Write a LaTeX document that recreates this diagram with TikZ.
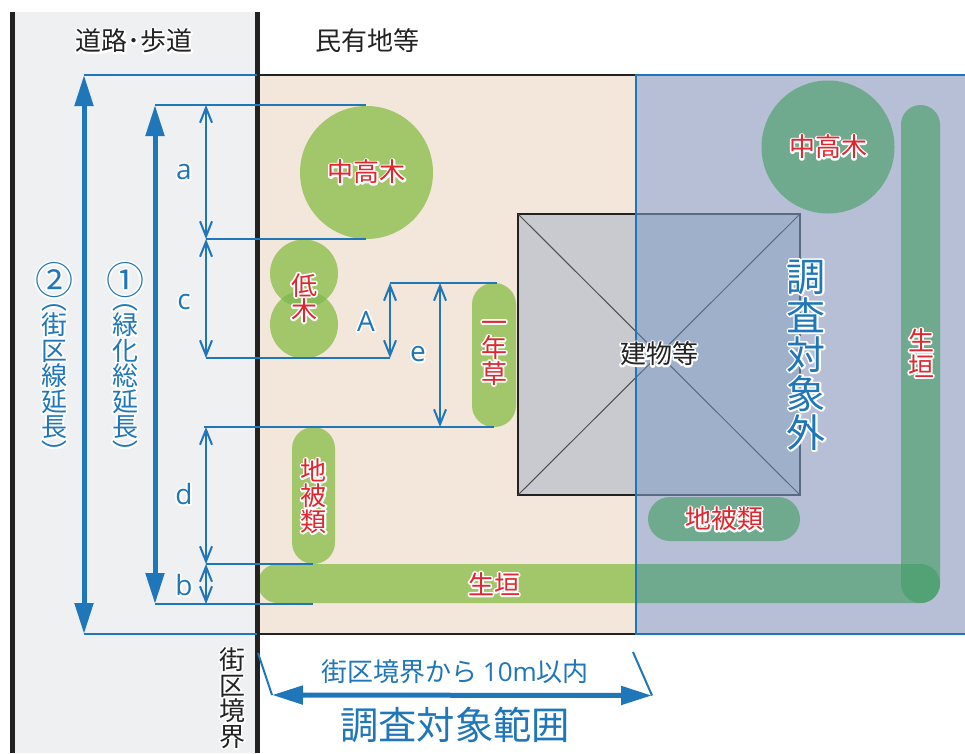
\documentclass[tikz,border=0pt]{standalone}
\usepackage{fontspec}
\usepackage{graphicx}
\usetikzlibrary{arrows.meta}
\setmainfont{Noto Sans CJK JP}
\newfontfamily\latn{Open Sans}
\definecolor{roadc}{HTML}{EFF0F2}
\definecolor{beige}{HTML}{F3E6DB}
\definecolor{bluebg}{HTML}{B6BFD5}
\definecolor{greena}{HTML}{A2C66A}
\definecolor{greenb}{HTML}{70AA8E}
\definecolor{greenc}{HTML}{52A276}
\definecolor{greend}{HTML}{86BC56}
\definecolor{blda}{HTML}{C8CAD0}
\definecolor{bldb}{HTML}{9FB1CA}
\definecolor{bldline}{HTML}{5A6A80}
\definecolor{dimc}{HTML}{1F76B8}
\definecolor{redc}{HTML}{E0262F}
\definecolor{inkc}{HTML}{222222}
\lineskiplimit=-1000pt
\newcommand\hl[1]{\leavevmode\rlap{\special{pdf:code 1 1 1 RG 3.5 w 1 j 1 J 1 Tr}#1\special{pdf:code 0 Tr}}#1}
\newcommand\rp[1]{\rotatebox[origin=c]{-90}{#1}}
\tikzset{
  x=1pt,y=-1pt,
  dimline/.style={draw=dimc,line width=2pt},
  big/.style={dimline,line width=5pt,{Triangle[length=31pt,width=18pt]}-{Triangle[length=31pt,width=18pt]}},
  thin/.style={dimline,line width=2pt,{Straight Barb[length=15pt,width=12pt,line width=2pt]}-{Straight Barb[length=15pt,width=12pt,line width=2pt]}},
  lab/.style={inner sep=0pt,font=\fontsize{26}{25.5}\selectfont,align=center},
  red/.style={lab,text=redc},
  blk/.style={lab,text=inkc},
  blu/.style={lab,text=dimc},
  ltr/.style={lab,text=dimc,font=\latn\fontsize{28}{28}\selectfont},
}
\begin{document}
\begin{tikzpicture}
\useasboundingbox (0,0) rectangle (965,753);
% areas
\fill[roadc] (12,12) rectangle (257,753);
\fill[beige] (257,75) rectangle (636,634);
\fill[bluebg] (636,75) rectangle (965,634);
\fill[blda] (518,214) rectangle (636,495);
\fill[bldb] (636,214) rectangle (800,495);
% greenery on private land
\fill[greena] (366.5,172.5) circle[radius=66.5];
\fill[greena] (304,273.5) circle[radius=34];
\fill[greena] (304,324.5) circle[radius=34];
\begin{scope}
 \clip (304,273.5) circle[radius=34];
 \fill[greend] (304,324.5) circle[radius=34];
\end{scope}
\fill[greena,rounded corners=21.5pt] (472,283) rectangle (516,427);
\fill[greena,rounded corners=21.5pt] (292,427) rectangle (335,564);
% hedge
\begin{scope}
 \clip (250,550) rectangle (636,620);
 \fill[greena,rounded corners=19.5pt] (258,564) rectangle (940,603);
\end{scope}
\begin{scope}
 \clip (636,550) rectangle (965,620);
 \fill[greenb,rounded corners=19.5pt] (258,564) rectangle (940,603);
\end{scope}
\fill[greenb,rounded corners=19.5pt] (901,105) rectangle (940,603);
\begin{scope}
 \clip[rounded corners=19.5pt] (901,105) rectangle (940,603);
 \fill[greenc,rounded corners=19.5pt] (258,564) rectangle (940,603);
\end{scope}
\fill[greenb] (828,147) circle[radius=66.5];
\fill[greenb,rounded corners=22pt] (648,497) rectangle (800,541);
% building
\draw[inkc,line width=2pt] (636,214) -- (518,214) -- (518,495) -- (636,495);
\draw[bldline,line width=2pt] (636,214) -- (800,214) -- (800,495) -- (636,495);
\begin{scope}
 \clip (518,214) rectangle (636,495);
 \draw[inkc!80,line width=1pt] (518,214) -- (800,495);
 \draw[inkc!80,line width=1pt] (518,495) -- (800,214);
\end{scope}
\begin{scope}
 \clip (636,214) rectangle (800,495);
 \draw[bldline,line width=1pt] (518,214) -- (800,495);
 \draw[bldline,line width=1pt] (518,495) -- (800,214);
\end{scope}
% borders
\draw[inkc,line width=2pt] (257,74.5) -- (636,74.5);
\draw[inkc,line width=2pt] (257,634) -- (636,634);
\draw[dimc,line width=2pt] (965,75) -- (636,75) -- (636,634) -- (965,634);
\fill[inkc] (9.5,12) rectangle (14.5,753);
\fill[inkc] (255,12) rectangle (259.5,753);
% named points
\coordinate (t2) at (84,75);   \coordinate (t2e) at (257,75);
\coordinate (b2) at (84,634);  \coordinate (b2e) at (257,634);
\coordinate (t1) at (155,105); \coordinate (t1e) at (366,105);
\coordinate (b1) at (155,604); \coordinate (b1e) at (313,604);
\coordinate (ta) at (206,105);
\coordinate (ma) at (206,239); \coordinate (mae) at (366,239);
\coordinate (mc) at (206,358); \coordinate (mce) at (390,358);
\coordinate (td) at (206,427); \coordinate (tds) at (204,427); \coordinate (tde) at (494,427);
\coordinate (md) at (206,564); \coordinate (mde) at (313,564);
\coordinate (bb) at (206,604);
\coordinate (tA) at (390,283); \coordinate (tAe) at (497,283);
\coordinate (te) at (440,283); \coordinate (be) at (440,427);
\coordinate (sl) at (258,653); \coordinate (al) at (272,695);
\coordinate (sr) at (633,652); \coordinate (ar) at (652,695.5);
% dimension lines
\draw[dimline] (t2) -- (t2e);
\draw[dimline] (b2) -- (b2e);
\draw[dimline] (t1) -- (t1e);
\draw[dimline] (b1) -- (b1e);
\draw[dimline] (ma) -- (mae);
\draw[dimline] (mc) -- (mce);
\draw[dimline] (tds) -- (tde);
\draw[dimline] (md) -- (mde);
\draw[dimline] (tA) -- (tAe);
\draw[dimline] (sl) -- (al);
\draw[dimline] (sr) -- (ar);
\draw[big] (t2) -- (b2);
\draw[big] (t1) -- (b1);
\draw[big] (al) -- (ar);
\draw[thin] (ta) -- (ma);
\draw[thin] (ma) -- (mc);
\draw[thin] (td) -- (md);
\draw[thin] (md) -- (bb);
\draw[thin] (tA) -- (mc -| tA);
\draw[thin] (te) -- (be);
% labels
\node[blk] (road) at (134,41) {\hl{道路･歩道}};
\node[blk] (priv) at (367,41) {\hl{民有地等}};
\node[red] (t1a) at (366.5,172) {\hl{中高木}};
\node[red] (t1b) at (828,147) {\hl{中高木}};
\node[red] (low) at (304,298) {\hl{低}\\\hl{木}};
\node[red] (ann) at (494,353) {\hl{一}\\\hl{年}\\\hl{草}};
\node[red] (gc1) at (313.5,496) {\hl{地}\\\hl{被}\\\hl{類}};
\node[red] (gc2) at (724,519) {\hl{地被類}};
\node[red] (hd1) at (494,584) {\hl{生垣}};
\node[red] (hd2) at (921,353) {\hl{生}\\\hl{垣}};
\node[blk] (bld) at (659,354) {\hl{建物等}};
\node[blu,font=\fontsize{39}{39}\selectfont] (out) at (806,355) {\hl{調}\\\hl{査}\\\hl{対}\\\hl{象}\\\hl{外}};
\node[ltr] (la) at (184,172) {\hl{a}};
\node[ltr] (lc) at (184,302) {\hl{c}};
\node[ltr] (ld) at (184,494) {\hl{d}};
\node[ltr] (lb) at (184,585) {\hl{b}};
\node[ltr] (lA) at (366,321) {\hl{A}};
\node[ltr] (le) at (418,354) {\hl{e}};
\node[blu,font=\fontsize{38}{38}\selectfont] (c1) at (125,280) {\hl{①}};
\node[blu,font=\fontsize{38}{38}\selectfont] (c2) at (54,280) {\hl{②}};
\node[blu] (v1) at (125,376) {\hl{\rp{（}}\\\hl{緑}\\\hl{化}\\\hl{総}\\\hl{延}\\\hl{長}\\\hl{\rp{）}}};
\node[blu] (v2) at (54,376) {\hl{\rp{（}}\\\hl{街}\\\hl{区}\\\hl{線}\\\hl{延}\\\hl{長}\\\hl{\rp{）}}};
\node[blk,inner sep=1pt] (bd) at (232,698) {\hl{街}\\\hl{区}\\\hl{境}\\\hl{界}};
\node[blu] (w1) at (455,672) {\hl{街区境界から {\latn 10m}以内}};
\node[blu,font=\fontsize{38.3}{38}\selectfont] (w2) at (455,725) {\hl{調査対象範囲}};
\end{tikzpicture}
\end{document}
